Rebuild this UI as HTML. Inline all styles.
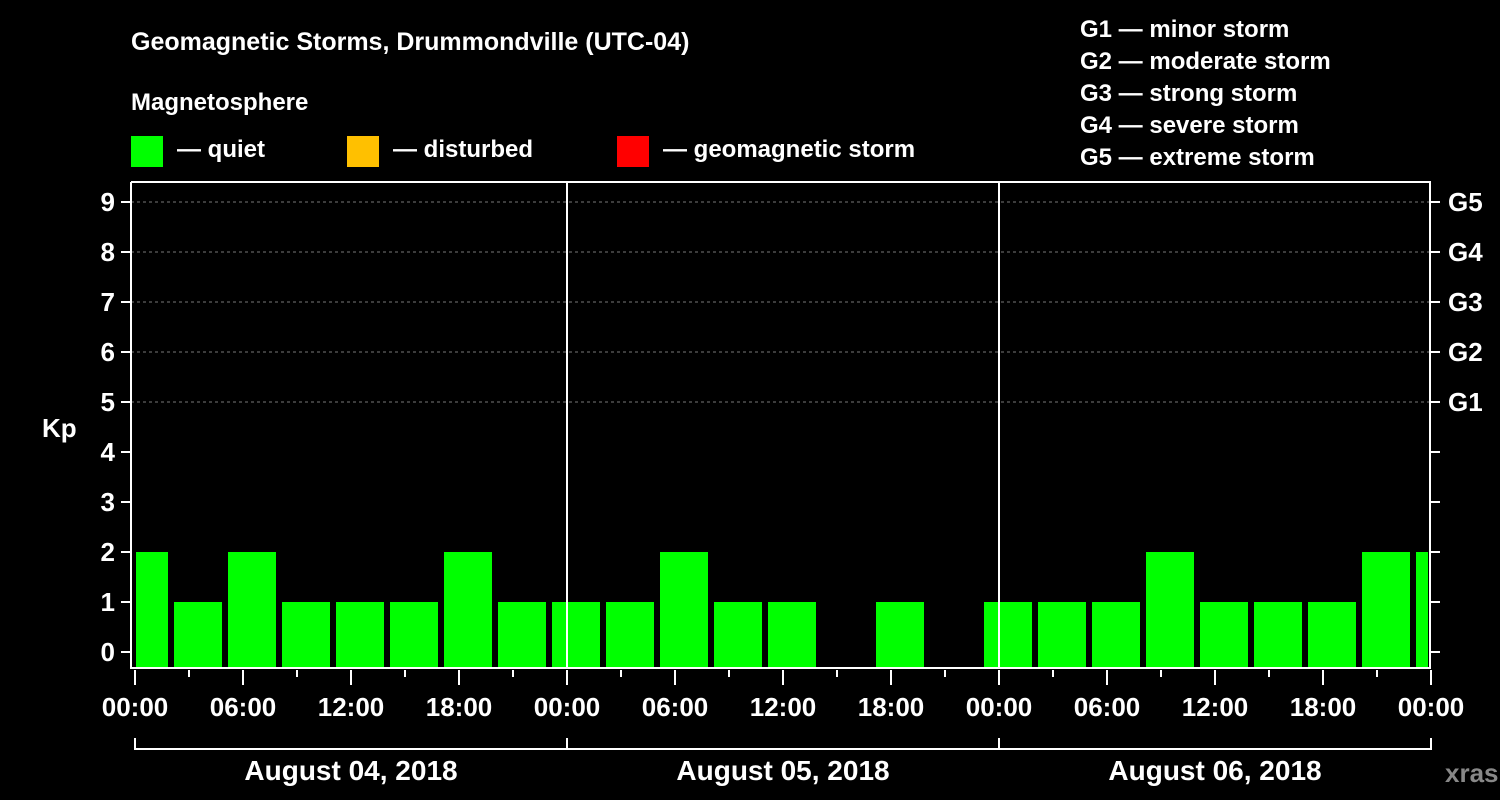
<!DOCTYPE html>
<html><head><meta charset="utf-8"><style>
body{margin:0;background:#000;}
svg{display:block;font-family:"Liberation Sans",Arial,sans-serif;font-weight:bold;}
</style></head><body>
<svg width="1500" height="800" viewBox="0 0 1500 800">
<rect width="1500" height="800" fill="#000"/>
<text x="131" y="50" fill="#fff" font-size="25">Geomagnetic Storms, Drummondville (UTC-04)</text>
<text x="131" y="110" fill="#fff" font-size="24">Magnetosphere</text>
<g><rect x="131" y="136" width="32" height="31" fill="#00ff00"/><text x="177" y="157" fill="#fff" font-size="24">— quiet</text></g>
<g><rect x="347" y="136" width="32" height="31" fill="#ffc000"/><text x="393" y="157" fill="#fff" font-size="24">— disturbed</text></g>
<g><rect x="617" y="136" width="32" height="31" fill="#ff0000"/><text x="663" y="157" fill="#fff" font-size="24">— geomagnetic storm</text></g>
<g fill="#fff" font-size="24">
<text x="1080" y="37">G1 — minor storm</text>
<text x="1080" y="69">G2 — moderate storm</text>
<text x="1080" y="101">G3 — strong storm</text>
<text x="1080" y="133">G4 — severe storm</text>
<text x="1080" y="165">G5 — extreme storm</text>
</g>
<text x="42" y="437" fill="#fff" font-size="26">Kp</text>
<text x="1445" y="782" fill="#888" font-size="26">xras.ru</text>
<g id="chart"></g>
</svg>
<script>
const kpValues=[2,1,2,1,1,1,2,1,1,1,2,1,1,0,1,0,1,1,1,2,1,1,1,2,2];
const binStartHour=-1;
const yTicks=[0,1,2,3,4,5,6,7,8,9];
const gLabels=["G1","G2","G3","G4","G5"];
const xTickLabels=["00:00","06:00","12:00","18:00","00:00","06:00","12:00","18:00","00:00","06:00","12:00","18:00","00:00"];
const dayLabels=["August 04, 2018","August 05, 2018","August 06, 2018"];

const NS="http://www.w3.org/2000/svg";
const L=131,R=1430,T=182,B=668,X0=135,PXH=18;
const xs=h=>X0+h*PXH;
const ys=v=>652-v*50;
const g=document.getElementById('chart');
function el(t,a,p){const e=document.createElementNS(NS,t);for(const k in a)e.setAttribute(k,a[k]);(p||g).appendChild(e);return e;}
// grid
yTicks.forEach(v=>{if(v>=5){const l=el('line',{x1:L,x2:R,y1:ys(v),y2:ys(v),stroke:'#777','stroke-dasharray':'3,3'});

}});
// bars
kpValues.forEach((v,i)=>{if(v<=0)return;
let h0=binStartHour+i*3,h1=h0+3;
let x0=Math.max(xs(h0)+3,X0+1),x1=Math.min(xs(h1)-3,R-2);
const c=v>=5?'#ff0000':(v>=4?'#ffc000':'#00ff00');
const r=el('rect',{x:x0,y:ys(v),width:x1-x0,height:B-ys(v),fill:c});

});
// frame
const fr=el('path',{d:`M${L} ${T}V${B}H${R}V${T}H${L}`,stroke:'#fff','stroke-width':2,fill:'none'});


// day separators
[1,2].forEach(d=>{const l=el('line',{x1:xs(24*d),x2:xs(24*d),y1:T,y2:B,stroke:'#fff','stroke-width':2});

});
// y ticks and labels
yTicks.forEach(v=>{
el('line',{x1:L-10,x2:L,y1:ys(v),y2:ys(v),stroke:'#fff','stroke-width':2});
el('line',{x1:R,x2:R+10,y1:ys(v),y2:ys(v),stroke:'#fff','stroke-width':2});
const t=el('text',{x:L-16,y:ys(v)+9,fill:'#fff','font-size':26,'text-anchor':'end'});t.textContent=v;

});
gLabels.forEach((s,i)=>{const t=el('text',{x:1448,y:ys(5+i)+9,fill:'#fff','font-size':26});t.textContent=s;

});
// x ticks
for(let h=0;h<=72;h+=3){const maj=h%6===0;el('line',{x1:xs(h),x2:xs(h),y1:B+2,y2:B+(maj?17:9),stroke:'#fff','stroke-width':2});}
xTickLabels.forEach((s,i)=>{const t=el('text',{x:xs(i*6),y:716,fill:'#fff','font-size':26,'text-anchor':'middle'});t.textContent=s;

});
// day brackets
el('path',{d:`M${xs(0)} 738V749H${xs(72)}V738`,stroke:'#fff','stroke-width':2,fill:'none'});
[1,2].forEach(d=>el('line',{x1:xs(24*d),x2:xs(24*d),y1:738,y2:749,stroke:'#fff','stroke-width':2}));
dayLabels.forEach((s,i)=>{const t=el('text',{x:xs(24*i+12),y:780,fill:'#fff','font-size':28,'text-anchor':'middle'});t.textContent=s;

});
</script>
</body></html>
